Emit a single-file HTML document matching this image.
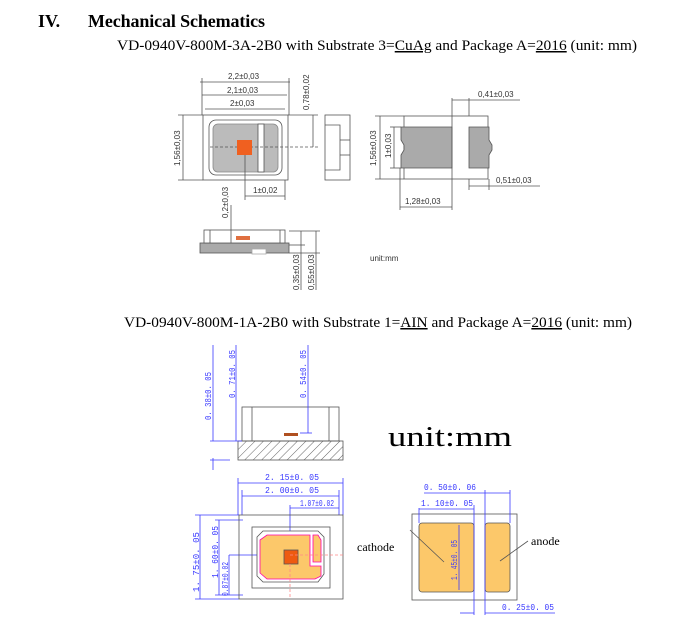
<!DOCTYPE html>
<html><head><meta charset="utf-8"><style>
html,body{margin:0;padding:0;background:#fff;width:689px;height:641px;overflow:hidden}
svg{display:block}
.s{font-family:"Liberation Serif",serif}
.a{font-family:"Liberation Sans",sans-serif;font-size:8px;fill:#333}
.b{font-family:"Liberation Mono",monospace;font-size:9px;fill:#3a3aff}
</style></head><body>
<svg width="689" height="641" viewBox="0 0 689 641" xmlns="http://www.w3.org/2000/svg">
<defs>
<pattern id="h" width="6" height="6" patternUnits="userSpaceOnUse" patternTransform="rotate(45)"><line x1="0" y1="0" x2="0" y2="6" stroke="#666" stroke-width="1"/></pattern>
</defs>
<text x="38" y="27" class="s" font-size="18" font-weight="bold">IV.</text>
<text x="88" y="27" class="s" font-size="18" font-weight="bold" textLength="177">Mechanical Schematics</text>
<text x="117" y="50" class="s" font-size="15" textLength="520" lengthAdjust="spacingAndGlyphs">VD-0940V-800M-3A-2B0 with Substrate 3=<tspan text-decoration="underline">CuAg</tspan> and Package A=<tspan text-decoration="underline">2016</tspan> (unit: mm)</text>
<text x="124" y="327" class="s" font-size="15" textLength="508" lengthAdjust="spacingAndGlyphs">VD-0940V-800M-1A-2B0 with Substrate 1=<tspan text-decoration="underline">AIN</tspan> and Package A=<tspan text-decoration="underline">2016</tspan> (unit: mm)</text>

<!-- top-left view -->
<g stroke="#555" stroke-width="0.8" fill="none">
<rect x="203" y="115" width="85" height="65" fill="#fff"/>
<rect x="209" y="120" width="73" height="55" rx="7"/>
<rect x="213" y="124" width="65" height="48" rx="5" fill="#bbb" stroke="#888"/>
<rect x="258" y="124" width="6" height="48" fill="#fff"/>
<line x1="200" y1="82" x2="290" y2="82"/><line x1="202" y1="95" x2="287" y2="95"/><line x1="205" y1="109" x2="285" y2="109"/>
<line x1="202" y1="78" x2="202" y2="115"/><line x1="289" y1="78" x2="289" y2="115"/>
<line x1="178" y1="115" x2="203" y2="115"/><line x1="178" y1="180" x2="203" y2="180"/>
<line x1="183" y1="115" x2="183" y2="180"/>
<line x1="288" y1="115" x2="318" y2="115"/><line x1="313" y1="115" x2="313" y2="147"/>
<line x1="210" y1="147" x2="318" y2="147" stroke-dasharray="3,2"/>
<line x1="245" y1="147" x2="245" y2="200"/><line x1="285" y1="180" x2="285" y2="200"/><line x1="245" y1="196" x2="285" y2="196"/>
<rect x="325" y="115" width="25" height="65" fill="#fff"/>
<polyline points="325,125 340,125 340,170 325,170"/>
<line x1="340" y1="140" x2="350" y2="140"/><line x1="340" y1="155" x2="350" y2="155"/>
<rect x="200" y="243" width="89" height="10" fill="#aaa"/>
<rect x="204" y="230" width="81" height="13" fill="#fff"/>
<line x1="210" y1="230" x2="210" y2="243"/><line x1="280" y1="230" x2="280" y2="243"/>
<rect x="252" y="249" width="14" height="5" fill="#fff" stroke="#aaa"/>
<line x1="231" y1="205" x2="231" y2="243"/>
<line x1="289" y1="231" x2="320" y2="231"/><line x1="289" y1="245" x2="305" y2="245"/><line x1="289" y1="253" x2="320" y2="253"/>
<line x1="301" y1="231" x2="301" y2="290"/><line x1="316" y1="231" x2="316" y2="290"/>
</g>
<rect x="237" y="140" width="15" height="15" fill="#f06020"/>
<rect x="236" y="236" width="14" height="4" fill="#e07040"/>
<text x="228" y="79" class="a">2,2±0,03</text>
<text x="227" y="93" class="a">2,1±0,03</text>
<text x="230" y="106" class="a">2±0,03</text>
<text x="253" y="193" class="a">1±0,02</text>
<text transform="translate(180,166) rotate(-90)" class="a">1,56±0,03</text>
<text transform="translate(309,110) rotate(-90)" class="a">0,78±0,02</text>
<text transform="translate(228,218) rotate(-90)" class="a">0,2±0,03</text>
<text transform="translate(299,290) rotate(-90)" class="a">0,35±0,03</text>
<text transform="translate(314,290) rotate(-90)" class="a">0,55±0,03</text>
<text x="370" y="261" class="a" font-size="10">unit:mm</text>

<!-- top right -->
<g stroke="#555" stroke-width="0.8" fill="none">
<rect x="404" y="116" width="84" height="63"/>
<path d="M401,127 H452 V168 H401 V155 L404,150 V145 L401,140 Z" fill="#aaa"/>
<path d="M469,127 H489 V140 L492,145 V150 L489,155 V168 H469 Z" fill="#aaa"/>
<line x1="375" y1="116" x2="404" y2="116"/><line x1="375" y1="179" x2="404" y2="179"/><line x1="380" y1="116" x2="380" y2="179"/>
<line x1="390" y1="127" x2="401" y2="127"/><line x1="390" y1="168" x2="401" y2="168"/><line x1="394" y1="127" x2="394" y2="168"/>
<line x1="452" y1="98" x2="452" y2="210"/><line x1="469" y1="98" x2="469" y2="116"/><line x1="452" y1="100" x2="520" y2="100"/>
<line x1="469" y1="179" x2="469" y2="190"/><line x1="489" y1="179" x2="489" y2="190"/><line x1="469" y1="186" x2="540" y2="186"/>
<line x1="400" y1="168" x2="400" y2="210"/><line x1="400" y1="207" x2="452" y2="207"/>
</g>
<text x="478" y="97" class="a">0,41±0,03</text>
<text x="496" y="183" class="a">0,51±0,03</text>
<text x="405" y="204" class="a">1,28±0,03</text>
<text transform="translate(376,166) rotate(-90)" class="a">1,56±0,03</text>
<text transform="translate(391,158) rotate(-90)" class="a">1±0,03</text>

<!-- bottom left side view -->
<g stroke="#555" stroke-width="0.8" fill="none">
<rect x="242" y="407" width="97" height="34"/>
<line x1="252" y1="407" x2="252" y2="441"/><line x1="329" y1="407" x2="329" y2="441"/>
<rect x="238" y="441" width="105" height="19" fill="url(#h)"/>
<rect x="284" y="433" width="14" height="3" fill="#b05020" stroke="none"/>
</g>
<g stroke="#3a3aff" stroke-width="0.8" fill="none">
<line x1="213" y1="345" x2="213" y2="441"/><line x1="236" y1="345" x2="236" y2="441"/><line x1="308" y1="345" x2="308" y2="433"/>
<line x1="210" y1="441" x2="242" y2="441"/><line x1="300" y1="433" x2="312" y2="433"/>
<line x1="213" y1="458" x2="213" y2="470"/><line x1="210" y1="460" x2="230" y2="460"/>
<line x1="238" y1="478" x2="238" y2="515"/><line x1="343" y1="478" x2="343" y2="515"/><line x1="242" y1="490" x2="242" y2="515"/><line x1="339" y1="490" x2="339" y2="515"/>
<line x1="238" y1="483" x2="343" y2="483"/><line x1="242" y1="496" x2="339" y2="496"/>
<line x1="290" y1="505" x2="290" y2="555"/><line x1="290" y1="508" x2="339" y2="508"/>
<line x1="195" y1="515" x2="239" y2="515"/><line x1="195" y1="599" x2="239" y2="599"/><line x1="200" y1="515" x2="200" y2="599"/>
<line x1="215" y1="520" x2="243" y2="520"/><line x1="215" y1="595" x2="243" y2="595"/><line x1="219" y1="520" x2="219" y2="595"/>
<line x1="229" y1="555" x2="290" y2="555"/><line x1="229" y1="555" x2="229" y2="595"/>
</g>
<text transform="translate(211,420) rotate(-90)" class="b" textLength="48" lengthAdjust="spacingAndGlyphs">0. 38±0. 05</text>
<text transform="translate(235,398) rotate(-90)" class="b" textLength="48" lengthAdjust="spacingAndGlyphs">0. 71±0. 05</text>
<text transform="translate(306,398) rotate(-90)" class="b" textLength="48" lengthAdjust="spacingAndGlyphs">0. 54±0. 05</text>
<text x="265" y="480" class="b" textLength="54" lengthAdjust="spacingAndGlyphs">2. 15±0. 05</text>
<text x="265" y="493" class="b" textLength="54" lengthAdjust="spacingAndGlyphs">2. 00±0. 05</text>
<text x="300" y="506" class="b" font-size="6" textLength="34" lengthAdjust="spacingAndGlyphs">1.07±0.02</text>
<text transform="translate(199,592) rotate(-90)" class="b" textLength="60" lengthAdjust="spacingAndGlyphs">1. 75±0. 05</text>
<text transform="translate(218,578) rotate(-90)" class="b" textLength="52" lengthAdjust="spacingAndGlyphs">1. 60±0. 05</text>
<text transform="translate(228,596) rotate(-90)" class="b" font-size="6" textLength="34" lengthAdjust="spacingAndGlyphs">0.87±0.02</text>
<text x="388" y="446" class="s" font-size="29" textLength="124" lengthAdjust="spacingAndGlyphs">unit:mm</text>

<!-- bottom left top view -->
<g stroke="#555" stroke-width="0.8">
<rect x="239" y="515" width="104" height="84" fill="none"/>
<rect x="252" y="527" width="78" height="61" fill="none"/>
<polygon points="263,531 318,531 324,537 324,574 318,582 263,582 257,576 257,537" fill="#fff"/>
<polygon points="267,535 310,535 310,566 321,566 321,576 315,579 267,579 260,573 260,540" fill="#fcc86a" stroke="#f0a"/>
<polygon points="313,535 318,535 321,540 321,562 313,562" fill="#fcc86a" stroke="#f0a"/>
<rect x="284" y="550" width="14" height="14" fill="#ee5a10" stroke="#555"/>
</g>
<line x1="290" y1="555" x2="343" y2="555" stroke="#f88" stroke-dasharray="3,2" stroke-width="0.8"/>
<line x1="290" y1="564" x2="290" y2="599" stroke="#f88" stroke-dasharray="3,2" stroke-width="0.8"/>

<!-- pads bottom right -->
<g stroke="#555" stroke-width="0.8">
<rect x="412" y="514" width="105" height="86" fill="none"/>
<rect x="419" y="523" width="55" height="69" rx="3" fill="#fcc86a"/>
<rect x="485" y="523" width="25" height="69" rx="3" fill="#fcc86a"/>
<line x1="410" y1="530" x2="444" y2="562"/><line x1="528" y1="541" x2="500" y2="561"/>
</g>
<g stroke="#3a3aff" stroke-width="0.8" fill="none">
<line x1="419" y1="508" x2="419" y2="523"/><line x1="474" y1="505" x2="474" y2="615"/><line x1="419" y1="509" x2="474" y2="509"/>
<line x1="485" y1="490" x2="485" y2="615"/><line x1="510" y1="490" x2="510" y2="523"/><line x1="424" y1="493" x2="510" y2="493"/>
<line x1="460" y1="613" x2="474" y2="613"/><line x1="485" y1="613" x2="555" y2="613"/>
<line x1="459" y1="525" x2="459" y2="590"/>
</g>
<text x="424" y="490" class="b" textLength="52" lengthAdjust="spacingAndGlyphs">0. 50±0. 06</text>
<text x="421" y="506" class="b" textLength="52" lengthAdjust="spacingAndGlyphs">1. 10±0. 05</text>
<text x="502" y="610" class="b" textLength="52" lengthAdjust="spacingAndGlyphs">0. 25±0. 05</text>
<text transform="translate(457,580) rotate(-90)" class="b" font-size="7" textLength="40" lengthAdjust="spacingAndGlyphs">1. 45±0. 05</text>
<text x="357" y="551" class="s" font-size="12">cathode</text>
<text x="531" y="545" class="s" font-size="12">anode</text>
</svg>
</body></html>
